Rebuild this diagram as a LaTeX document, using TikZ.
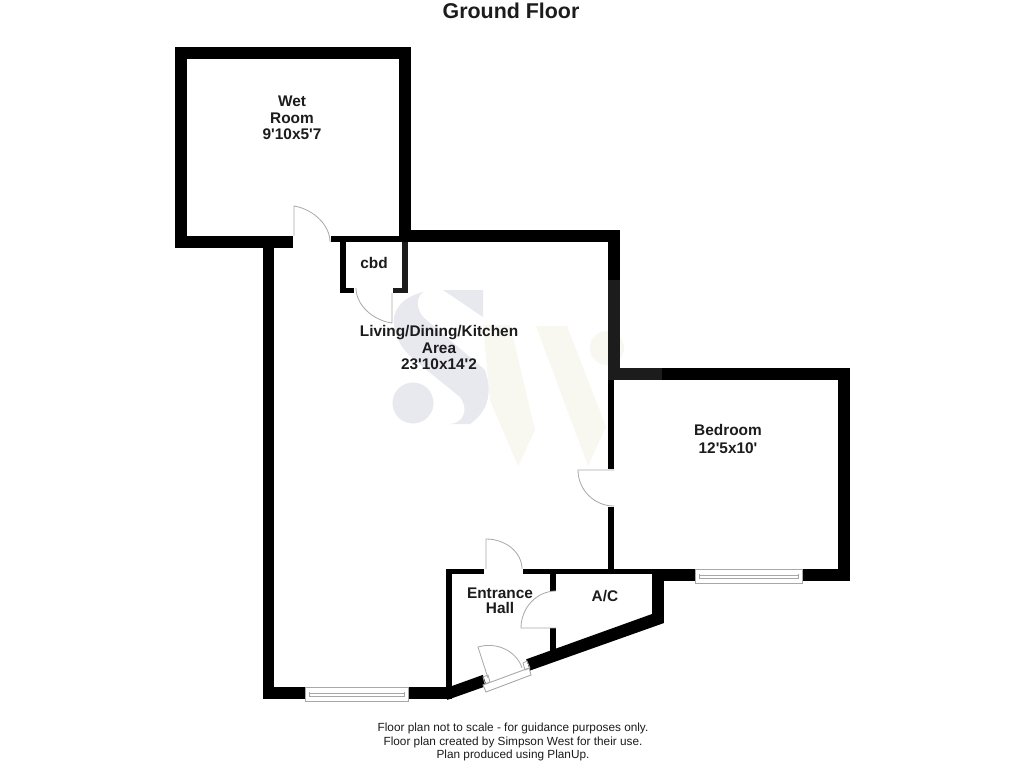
\documentclass[tikz,border=0pt]{standalone}
\usepackage{fontspec}
\setmainfont{Liberation Sans}
\usetikzlibrary{calc}
\definecolor{inkdark}{HTML}{1C1C1C}
\definecolor{framegrey}{HTML}{A8A8A8}
\definecolor{markblue}{HTML}{E8E8EF}
\definecolor{markcream}{HTML}{F8F8F1}
\tikzstyle{wall}=[fill=black, draw=none]
\tikzstyle{wallsoft}=[fill=inkdark, draw=none]
\tikzstyle{swing}=[draw=framegrey, line width=0.8pt]
\tikzstyle{frame}=[draw=framegrey, line width=0.9pt, fill=white]
\tikzstyle{room}=[font=\fontsize{15.4}{16.5}\selectfont\bfseries, text=inkdark, align=center, inner sep=0pt]
\tikzstyle{note}=[font=\fontsize{11.8}{13.5}\selectfont, text=inkdark, align=center, inner sep=0pt]
\newcommand{\room}{\node[room]}
\newcommand{\ft}{\textquotesingle}
% hinge, open end of the leaf, closed end of the swing
\newcommand{\doorswing}[3]{\draw[swing] (#1) -- (#2) .. controls ($(#2)+0.55*(#3)-0.55*(#1)$) and ($(#3)+0.55*(#2)-0.55*(#1)$) .. (#3);}
% left, right, top of a window
\newcommand{\windowframe}[3]{
\draw[frame] (#1,#3) rectangle (#2,#3+14);
\draw[framegrey, line width=0.8pt] (#1+4,#3+6) -- (#2-4,#3+6) (#1+4,#3+9) -- (#2-4,#3+9);
\draw[framegrey, line width=0.8pt] (#1+4,#3+5) -- (#1+4,#3+10) (#2-4,#3+5) -- (#2-4,#3+10);
}
\begin{document}
\begin{tikzpicture}[x=1pt,y=-1pt]
\useasboundingbox[fill=white] (0,0) rectangle (1024,768);
% watermark
\fill[markcream] (483,325) -- (510,325) -- (535,430) -- (518,466) -- (490,400) -- cycle;
\fill[markcream] (536,326) -- (567,326) -- (606,427) -- (588,466) -- cycle;
\fill[markcream] (607,348) circle (17);
\fill[markblue] (413,403) circle (20.5);
\fill[markblue] (423,292) .. controls (400,298) and (392,312) .. (394,325) .. controls (396,340) and (402,348) .. (412,358) -- (460,397) .. controls (470,410) and (462,424) .. (450,424) -- (470,424) .. controls (490,410) and (492,390) .. (485,370) -- (423,317) .. controls (416,308) and (416,298) .. (423,292) -- cycle;
\fill[markblue] (443,290) -- (483,290) -- (483,317) -- cycle;
% wet room
\fill[wall] (175,47) rectangle (411,59);
\fill[wall] (175,47) rectangle (187,248);
\fill[wall] (399,47) rectangle (411,242);
\fill[wall] (175,236) rectangle (293,248);
\fill[wall] (331,236) rectangle (411,242);
% main room
\fill[wall] (399,230) rectangle (620,242);
\fill[wall] (263,236) rectangle (274,699);
\fill[wall] (608,230) rectangle (620,380);
\fill[wall] (608,380) rectangle (614,469);
\fill[wall] (608,507) rectangle (614,574);
\fill[wall] (263,687) rectangle (305,699);
\fill[wall] (408,687) rectangle (452,699);
% cbd
\fill[wall] (340,236) rectangle (346,293);
\fill[wall] (340,288) rectangle (354,293);
\fill[wallsoft] (402,242) rectangle (408,293);
\fill[wallsoft] (393,288) rectangle (408,293);
% bedroom
\fill[wall] (608,368) rectangle (850,380);
\fill[wall] (838,368) rectangle (850,581);
\fill[wall] (802,569) rectangle (850,581);
\fill[wall] (652,569) rectangle (695,581);
% entrance hall and a/c
\fill[wall] (446,569) rectangle (452,690);
\fill[wall] (446,569) rectangle (484,574);
\fill[wall] (523,569) rectangle (664,574);
\fill[wall] (550,569) rectangle (556,591);
\fill[wall] (550,628) rectangle (556,652);
\fill[wall] (652,569) rectangle (664,623);
\fill[wall] (447,700) -- (452,686) -- (652,614) -- (664,623) -- cycle;
% overlap of watermark and walls
\fill[wallsoft] (608,280) rectangle (620,370);
\fill[wallsoft] (608,368) rectangle (662,380);
% diagonal door opening
\fill[white] (482.6,673.8) -- (525.6,658) -- (530.5,672) -- (487.5,688) -- cycle;
% entrance door frame
\draw[frame] (483,685) -- (529,668) -- (531,675) -- (486,692) -- cycle;
\draw[framegrey, line width=0.8pt] (483,677) -- (488,675) -- (490,682) -- (485,684) -- cycle;
\draw[framegrey, line width=0.8pt] (523,663) -- (527,661) -- (530,668) -- (525,670) -- cycle;
% windows
\windowframe{305}{408}{687}
\windowframe{695}{802}{569}
% door swings
\doorswing{294,236}{294,206}{330,242}
\doorswing{392,293}{392,323}{356,288}
\doorswing{614,470}{578,470}{614,506}
\doorswing{486,569}{486,539}{522,569}
\doorswing{556,628}{521,628}{556,591}
\doorswing{488,678}{478,647}{522,668}
% labels
\node[font=\fontsize{21.4}{23}\selectfont\bfseries, text=inkdark, inner sep=0pt] (title) at (511,11) {Ground Floor};
\room (wetroom) at (292,118) {Wet\\Room\\9\ft10x5\ft7};
\room (cbd) at (374,263) {cbd};
\room (living) at (439,348) {Living/Dining/Kitchen\\Area\\23\ft10x14\ft2};
\room (bedroom) at (728,439) {Bedroom\\[2pt]12\ft5x10\ft};
\room (hall) at (500,601) {Entrance\\[-1.5pt]Hall};
\room (ac) at (605,596) {A/C};
\node[note] (notes) at (513,742) {Floor plan not to scale - for guidance purposes only.\\Floor plan created by Simpson West for their use.\\Plan produced using PlanUp.};
\end{tikzpicture}
\end{document}
